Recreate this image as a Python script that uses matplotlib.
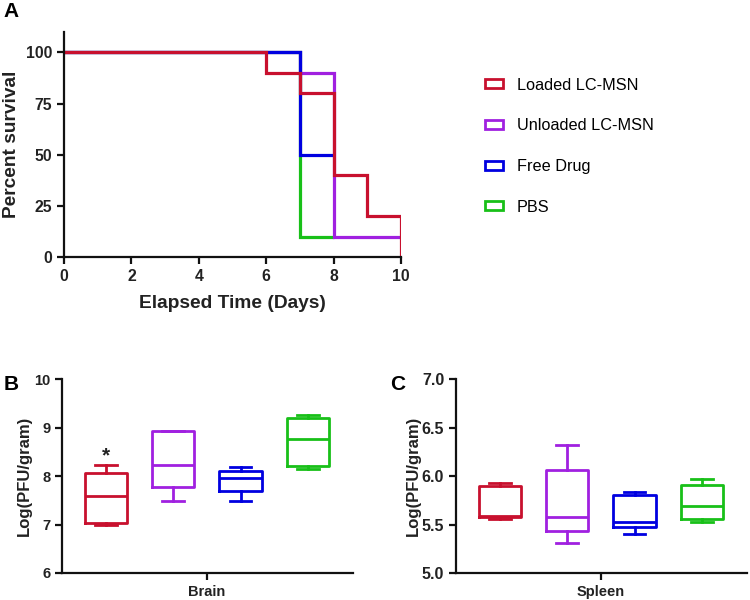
import matplotlib
matplotlib.use("Agg")
import matplotlib.pyplot as plt
from matplotlib.patches import Patch

plt.rcParams['font.family'] = ['Liberation Sans', 'DejaVu Sans']

groups = ["Loaded LC-MSN", "Unloaded LC-MSN", "Free Drug", "PBS"]
colors = ["#C8102E", "#A020E0", "#0000E0", "#18C018"]

# Survival data (step curves)
surv_times = {
    "Loaded LC-MSN": [0, 6, 7, 8, 9, 10, 10],
    "Unloaded LC-MSN": [0, 7, 8, 10],
    "Free Drug": [0, 7, 8],
    "PBS": [0, 7, 8],
}
surv_values = {
    "Loaded LC-MSN": [100, 90, 80, 40, 20, 20, 0],
    "Unloaded LC-MSN": [100, 90, 10, 10],
    "Free Drug": [100, 50, 50],
    "PBS": [100, 10, 10],
}

# Box statistics: whislo, q1, median, q3, whishi
brain_whislo = [6.98, 7.49, 7.48, 8.14]
brain_q1 = [7.03, 7.77, 7.70, 8.21]
brain_med = [7.59, 8.23, 7.95, 8.76]
brain_q3 = [8.07, 8.92, 8.10, 9.20]
brain_whishi = [8.23, 8.92, 8.18, 9.26]

spleen_whislo = [5.56, 5.31, 5.40, 5.53]
spleen_q1 = [5.58, 5.43, 5.47, 5.56]
spleen_med = [5.59, 5.58, 5.53, 5.69]
spleen_q3 = [5.90, 6.06, 5.80, 5.91]
spleen_whishi = [5.93, 6.32, 5.83, 5.97]

fig = plt.figure(figsize=(7.5, 6), dpi=100)

axA = fig.add_axes([0.0853, 0.5717, 0.4494, 0.375])
draw_order = ["PBS", "Unloaded LC-MSN", "Free Drug", "Loaded LC-MSN"]
for g in draw_order:
    c = colors[groups.index(g)]
    tt = surv_times[g]
    vv = surv_values[g]
    xs, ys = [tt[0]], [vv[0]]
    for i in range(1, len(tt)):
        xs.append(tt[i]); ys.append(vv[i-1])
        xs.append(tt[i]); ys.append(vv[i])
    axA.plot(xs, ys, color=c, lw=2.3, solid_joinstyle='miter', solid_capstyle='butt')
axA.set_xlim(0, 10)
axA.set_ylim(0, 110)
axA.set_xticks([0, 2, 4, 6, 8, 10])
axA.set_yticks([0, 25, 50, 75, 100])
axA.set_xlabel("Elapsed Time (Days)", fontsize=13.8, fontweight='bold', color='#222222', labelpad=8)
axA.set_ylabel("Percent survival", fontsize=13.8, fontweight='bold', color='#222222')

handles = [Patch(facecolor='white', edgecolor=c, lw=2) for c in colors]
fig.legend(handles, groups, loc='upper left', bbox_to_anchor=(0.627, 0.895),
           frameon=False, fontsize=11.7, handlelength=1.1, handleheight=0.45,
           labelspacing=1.58, handletextpad=0.85)


def box_panel(rect, whislo, q1, med, q3, whishi, ylim, yticks, yfmt, xlabel, lpad):
    ax = fig.add_axes(rect)
    stats = []
    for i in range(4):
        stats.append(dict(whislo=whislo[i], q1=q1[i], med=med[i], q3=q3[i],
                          whishi=whishi[i], fliers=[]))
    pos = [1, 2, 3, 4]
    bp = ax.bxp(stats, positions=pos, widths=0.63, patch_artist=False,
                showfliers=False, manage_ticks=False)
    for i, c in enumerate(colors):
        bp['boxes'][i].set(color=c, lw=2)
        bp['medians'][i].set(color=c, lw=2)
        for w in bp['whiskers'][2*i:2*i+2]:
            w.set(color=c, lw=2)
        for cp in bp['caps'][2*i:2*i+2]:
            cp.set(color=c, lw=2)
            xd = cp.get_xdata()
            m = (xd[0] + xd[1]) / 2
            cp.set_xdata([m - 0.16, m + 0.16])
    ax.set_xlim(0.35, 4.67)
    ax.set_ylim(*ylim)
    ax.set_yticks(yticks)
    ax.set_yticklabels([yfmt.format(v) for v in yticks])
    ax.set_xticks([2.5])
    ax.set_xticklabels([xlabel])
    ax.set_ylabel("Log(PFU/gram)", fontsize=12, fontweight='bold', color='#222222', labelpad=lpad)
    return ax

axB = box_panel([0.0827, 0.045, 0.388, 0.3233], brain_whislo, brain_q1, brain_med,
                brain_q3, brain_whishi, (6, 10), [6, 7, 8, 9, 10], "{:.0f}", "Brain", 1.5)
axB.text(1, 8.42, "*", ha='center', va='center', fontsize=15, fontweight='bold', color='#222222')

axC = box_panel([0.608, 0.045, 0.388, 0.3233], spleen_whislo, spleen_q1, spleen_med,
                spleen_q3, spleen_whishi, (5.0, 7.0), [5.0, 5.5, 6.0, 6.5, 7.0], "{:.1f}", "Spleen", 0.5)

for ax, fs in [(axA, 11.3), (axB, 10.5), (axC, 11.5)]:
    ax.spines['top'].set_visible(False)
    ax.spines['right'].set_visible(False)
    for s in ['left', 'bottom']:
        ax.spines[s].set_linewidth(1.6)
        ax.spines[s].set_color('#111111')
    ax.tick_params(direction='out', length=5, width=1.6, color='#111111',
                   labelsize=fs, labelcolor='#222222')
    for lab in ax.get_xticklabels() + ax.get_yticklabels():
        lab.set_fontweight('bold')
axB.tick_params(axis='x', labelsize=10.5)
axC.tick_params(axis='x', labelsize=10.5)

fig.text(0.005, 0.997, "A", fontsize=15, fontweight='bold', va='top')
fig.text(0.005, 0.375, "B", fontsize=15, fontweight='bold', va='top')
fig.text(0.52, 0.375, "C", fontsize=15, fontweight='bold', va='top')

fig.savefig("out.png", dpi=100)
